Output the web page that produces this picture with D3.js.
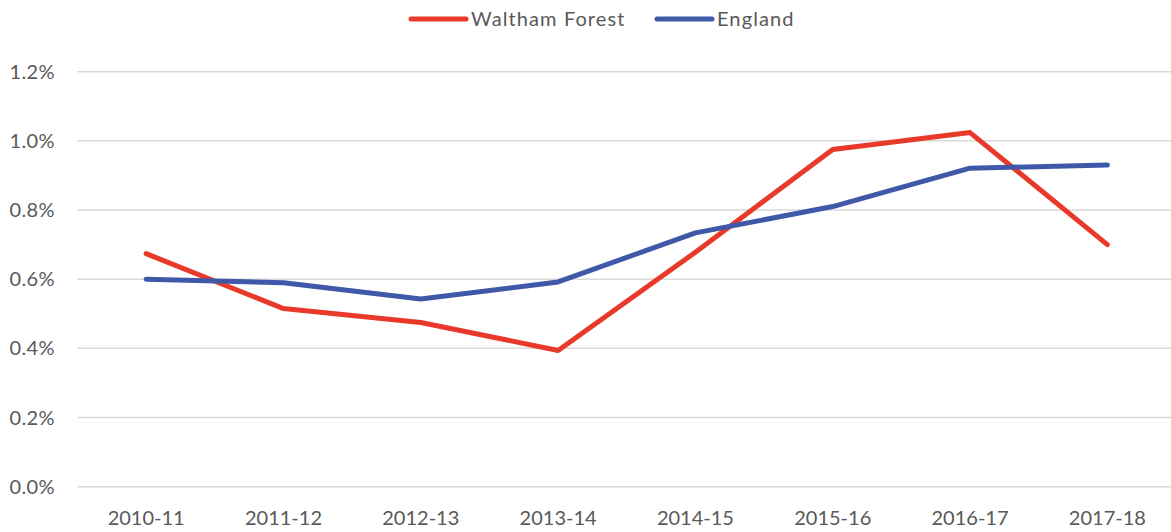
<!DOCTYPE html>
<html>
<head>
<meta charset="utf-8">
<script src="https://cdn.jsdelivr.net/npm/d3@7"></script>
<style>
body { margin: 0; background: #fff; }
text { font-family: Lato, "Open Sans", sans-serif; fill: #595959; }
</style>
</head>
<body>
<div id="chart"></div>
<script>
// data
const years = ['2010-11','2011-12','2012-13','2013-14','2014-15','2015-16','2016-17','2017-18'];
const walthamForest = [0.674, 0.515, 0.475, 0.394, 0.678, 0.975, 1.024, 0.700];
const england = [0.600, 0.590, 0.543, 0.592, 0.734, 0.810, 0.921, 0.930];
const yTicks = [0, 0.2, 0.4, 0.6, 0.8, 1.0, 1.2];

const series = [
  {name: 'Waltham Forest', values: walthamForest, color: '#E8392A'},
  {name: 'England', values: england, color: '#3F58A8'}
];

const W = 1171, H = 532;
const plotL = 77.5, plotR = 1176, plotT = 71.7, plotB = 486.7;

var svg = d3.select('#chart')
  .append('svg')
  .attr('width', W)
  .attr('height', H);

const x = d3.scaleBand().domain(years).range([plotL, plotR]);
const y = d3.scaleLinear().domain([0, 1.2]).range([plotB, plotT]);

// gridlines
svg.append('g')
  .selectAll('line')
  .data(yTicks)
  .join('line')
  .attr('x1', plotL)
  .attr('x2', plotR)
  .attr('y1', d => y(d))
  .attr('y2', d => y(d))
  .attr('stroke', '#d9d9d9')
  .attr('stroke-width', 1.5);

// y labels
svg.append('g')
  .selectAll('text')
  .data(yTicks)
  .join('text')
  .attr('x', 55)
  .attr('y', d => y(d) + 7)
  .attr('text-anchor', 'end')
  .attr('font-size', 20)
  .attr('letter-spacing', 0.4)
  .text(d => d.toFixed(1) + '%');

// x labels
svg.append('g')
  .selectAll('text')
  .data(years)
  .join('text')
  .attr('x', d => x(d) + x.bandwidth() / 2)
  .attr('y', 525)
  .attr('text-anchor', 'middle')
  .attr('font-size', 20)
  .text(d => d);

// lines
const line = d3.line()
  .x((d, i) => x(years[i]) + x.bandwidth() / 2)
  .y(d => y(d));

svg.append('g')
  .selectAll('path')
  .data(series)
  .join('path')
  .attr('d', d => line(d.values))
  .attr('fill', 'none')
  .attr('stroke', d => d.color)
  .attr('stroke-width', 5)
  .attr('stroke-linecap', 'round')
  .attr('stroke-linejoin', 'round');

// legend
const legendX = [411, 657];
const lg = svg.append('g')
  .selectAll('g')
  .data(series)
  .join('g')
  .attr('transform', (d, i) => 'translate(' + legendX[i] + ',19)');

lg.append('line')
  .attr('x1', 0)
  .attr('x2', 55)
  .attr('stroke', d => d.color)
  .attr('stroke-width', 5)
  .attr('stroke-linecap', 'round');

lg.append('text')
  .attr('x', 60)
  .attr('y', 7)
  .attr('font-size', 20)
  .attr('letter-spacing', 1.1)
  .text(d => d.name);
</script>
</body>
</html>
